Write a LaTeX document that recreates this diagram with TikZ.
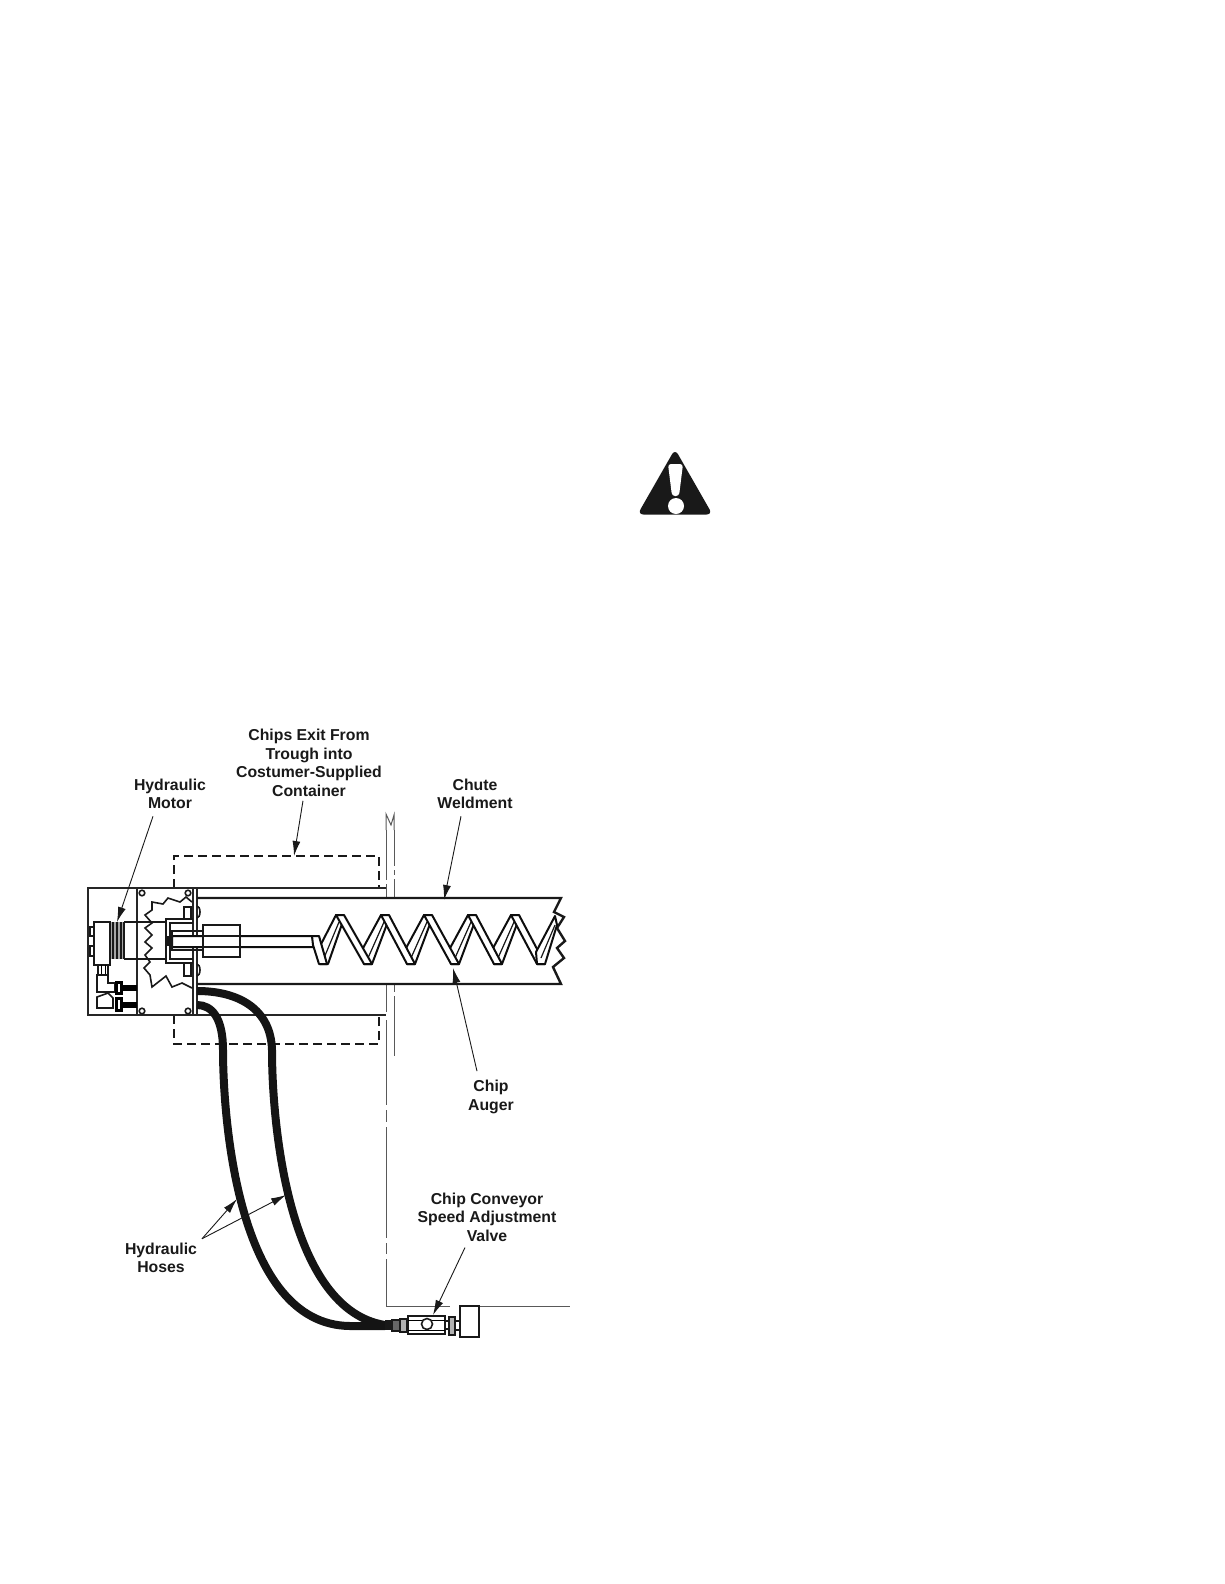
\documentclass[tikz,border=0pt]{standalone}
\usepackage{fontspec}
\setmainfont{Liberation Sans}
\usepackage{tikz}
\usetikzlibrary{arrows.meta}

\begin{document}
\begin{tikzpicture}[
  x=1pt, y=-1pt,
  lbl/.style={align=center, font=\fontsize{15.8}{18.5}\selectfont\bfseries, inner sep=0pt, black!90},
  leader/.style={-{Latex[length=15pt,width=8pt]}, line width=0.9pt, black!90},
  heavy/.style={line width=2pt, black!85},
  med/.style={line width=1.6pt, black!90},
  thin line/.style={line width=1pt, black!65},
  hose/.style={line width=8pt, black!92, line cap=butt},
  flight/.style={fill=white, draw=black!95, line width=2pt, line join=round}
]
  \useasboundingbox (0,0) rectangle (1224,1584);

  % warning sign
  \fill[black!90, rounded corners=6pt] (675,449) -- (712.5,514.5) -- (637.5,514.5) -- cycle;
  \fill[white, rounded corners=3pt] (668,464) -- (683,464) -- (679,496) -- (672,496) -- cycle;
  \fill[white] (676,506) circle (8);

  % wall lines
  \draw[thin line] (386,830) -- (386,814) -- (391,825) -- (394,815) -- (394,830);
  \draw[thin line] (386,830) -- (386,880) (386,884) -- (386,898);
  \draw[thin line] (394,830) -- (394,866) (394,870) -- (394,875) (394,879) -- (394,898);
  \draw[thin line] (386,984) -- (386,1012) (386,1020) -- (386,1105) (386,1110) -- (386,1122)
    (386,1127) -- (386,1238) (386,1243) -- (386,1254) (386,1259) -- (386,1306) -- (450,1306);
  \draw[thin line] (459,1306) -- (570,1306);
  \draw[thin line] (394,984) -- (394,992) (394,996) -- (394,1056);

  % container
  \draw[med, dash pattern=on 9pt off 5pt, line width=1.7pt] (174,888) -- (174,856) -- (379,856) -- (379,888);
  \draw[med, dash pattern=on 9pt off 5pt, line width=1.7pt] (174,1015) -- (174,1044) -- (379,1044) -- (379,1015);

  % frame
  \draw[heavy] (386,888) -- (88,888) -- (88,1015) -- (386,1015);
  \draw[heavy] (137,888) -- (137,1015);
  \draw[heavy] (193,888) -- (193,1015);
  \draw[heavy] (197,888) -- (197,1015);
  \foreach \cx/\cy in {142/893, 188/893, 142/1011, 188/1011}
    \draw[med] (\cx,\cy) circle (2.8);

  % chute
  \draw[line width=2.4pt, black!90] (197,898) -- (561,898) -- (554,912) -- (564,917) -- (557,928) -- (565,941) -- (557,948) -- (564,958) -- (553,967) -- (561,984) -- (197,984);

  % auger
  \foreach \px/\vx in {340/323, 385/367, 428/410, 472/454, 515/497} {
    \draw[flight] (\vx-5,950) -- (\px-4,915) -- (\px+3,915) -- (\px+2,924) -- (\vx+5,964) -- (\vx-3,964) -- cycle;
    \draw[line width=1.2pt, black!90] (\vx+1,958) -- (\px-1,922);
  }
  \foreach \px/\vx in {340/367, 385/410, 428/454, 472/497, 515/540} {
    \draw[flight] (\px-4,915) -- (\px+4,915) -- (\vx+5,964) -- (\vx-3,964) -- cycle;
  }
  \draw[flight] (536,952) -- (555,916) -- (557,925) -- (545,964) -- (537,964) -- cycle;
  \draw[line width=1.2pt, black!90] (541,958) -- (555,925);
  \draw[flight] (312,936) -- (172,936) -- (172,947) -- (315,947) -- cycle;
  \draw[flight] (312,936) -- (319,936) -- (327,964) -- (319,964) -- (313,945) -- cycle;

  % collar and bracket
  \draw[med, fill=white] (203,925) rectangle (240,957);
  \draw[med] (203,936) -- (240,936) (203,947) -- (240,947);
  \draw[med] (193,919) -- (166,919) -- (166,963) -- (193,963);
  \draw[med] (193,923) -- (170,923) -- (170,959) -- (193,959);
  \draw[med] (203,931) -- (172,931) -- (172,950) -- (203,950);
  \draw[med] (184,918) -- (184,907) -- (191,907) -- (191,918);
  \draw[med] (184,964) -- (184,976) -- (191,976) -- (191,964);
  \draw[med] (168,937) rectangle (172,945);
  \draw[med] (197,906) arc (-90:90:3 and 6);
  \draw[med] (197,964) arc (-90:90:3 and 6);

  % break line
  \draw[med] (192,902) -- (186,897) -- (180,902) -- (168,898) -- (163,904) -- (152,902) -- (152,910) -- (145,915) -- (152,923) -- (145,928) -- (152,935) -- (145,942) -- (152,948) -- (145,955) -- (150,962) -- (144,968) -- (150,975) -- (152,987) -- (166,976) -- (172,987) -- (182,983) -- (192,988);
  \draw[med] (137,922) -- (166,922) (137,959) -- (166,959);

  % motor
  \draw[med, fill=white] (94,922) rectangle (110,965);
  \fill[black!35] (110,922) rectangle (124,959);
  \foreach \mx in {110,113,117,121,124}
    \draw[med] (\mx,922) -- (\mx,959);
  \draw[med] (124,922) -- (137,922) (124,959) -- (137,959);
  \draw[med] (94,927) -- (90,927) -- (90,936) -- (94,936);
  \draw[med] (94,946) -- (90,946) -- (90,956) -- (94,956);
  \draw[med] (98,965) rectangle (108,975);
  \draw[line width=1pt] (101,965) -- (101,975) (105,965) -- (105,975);
  \draw[med, fill=white] (97,975) -- (108,975) -- (108,983) -- (115,983) -- (115,992) -- (97,992) -- cycle;
  \draw[line width=3pt] (116,982) rectangle (121,993);
  \fill (122,985) rectangle (137,991);
  \draw[med, fill=white] (97,997) -- (108,993) -- (113,998) -- (113,1008) -- (97,1008) -- cycle;
  \draw[line width=3pt] (116,998) rectangle (121,1010);
  \fill (122,1002) rectangle (137,1008);

  % hoses
  \draw[hose] (197,991) .. controls (240,991) and (271,1010) .. (272,1050)
    .. controls (272,1130) and (290,1310) .. (385,1325);
  \draw[hose] (197,1005) .. controls (212,1005) and (223,1018) .. (223,1050)
    .. controls (223,1110) and (235,1325) .. (350,1326) -- (385,1326);

  % valve
  \fill[black!90] (385,1320) rectangle (392,1330);
  \draw[med, fill=black!60] (392,1320) rectangle (400,1331);
  \draw[med, fill=black!30] (400,1319) rectangle (407,1332);
  \draw[med, fill=white] (408,1316) rectangle (445,1334);
  \draw[line width=1pt] (408,1320) -- (445,1320) (408,1330) -- (445,1330);
  \draw[med, fill=white] (427,1324) circle (5.5);
  \draw[med] (445,1321) -- (449,1321) (445,1329) -- (449,1329);
  \draw[med, fill=black!30] (449,1317) rectangle (455,1335);
  \draw[med] (455,1321) -- (460,1321) (455,1330) -- (460,1330);
  \draw[med, fill=white] (460,1306) rectangle (479,1337);

  % labels
  \node[lbl] (lblMotor) at (170,794) {Hydraulic\\Motor};
  \node[lbl] (lblChips) at (309,763) {Chips Exit From\\Trough into\\Costumer-Supplied\\Container};
  \node[lbl] (lblChute) at (475,794) {Chute\\Weldment};
  \node[lbl] (lblAuger) at (491,1097) {Chip\\Auger};
  \node[lbl] (lblValve) at (487,1217) {Chip Conveyor\\Speed Adjustment\\Valve};
  \node[lbl] (lblHoses) at (161,1258) {Hydraulic\\Hoses};

  \coordinate (tipMotor) at (117,922);
  \coordinate (tipChips) at (294,856);
  \coordinate (tipChute) at (444,900);
  \coordinate (tipAuger) at (453,968);
  \coordinate (tipValve) at (433,1315);
  \coordinate (tipHoseA) at (237,1199);
  \coordinate (tipHoseB) at (286,1195);

  \draw[leader] (lblMotor.south) ++(-17,7) -- (tipMotor);
  \draw[leader] (lblChips.south) ++(-6,4) -- (tipChips);
  \draw[leader] (lblChute.south) ++(-14,7) -- (tipChute);
  \draw[leader] (lblAuger.north) ++(-14,-9) -- (tipAuger);
  \draw[leader] (lblValve.south) ++(-22,6) -- (tipValve);
  \draw[leader] (lblHoses.north) ++(41,-4) -- (tipHoseA);
  \draw[leader] (lblHoses.north) ++(41,-4) -- (tipHoseB);
\end{tikzpicture}
\end{document}
